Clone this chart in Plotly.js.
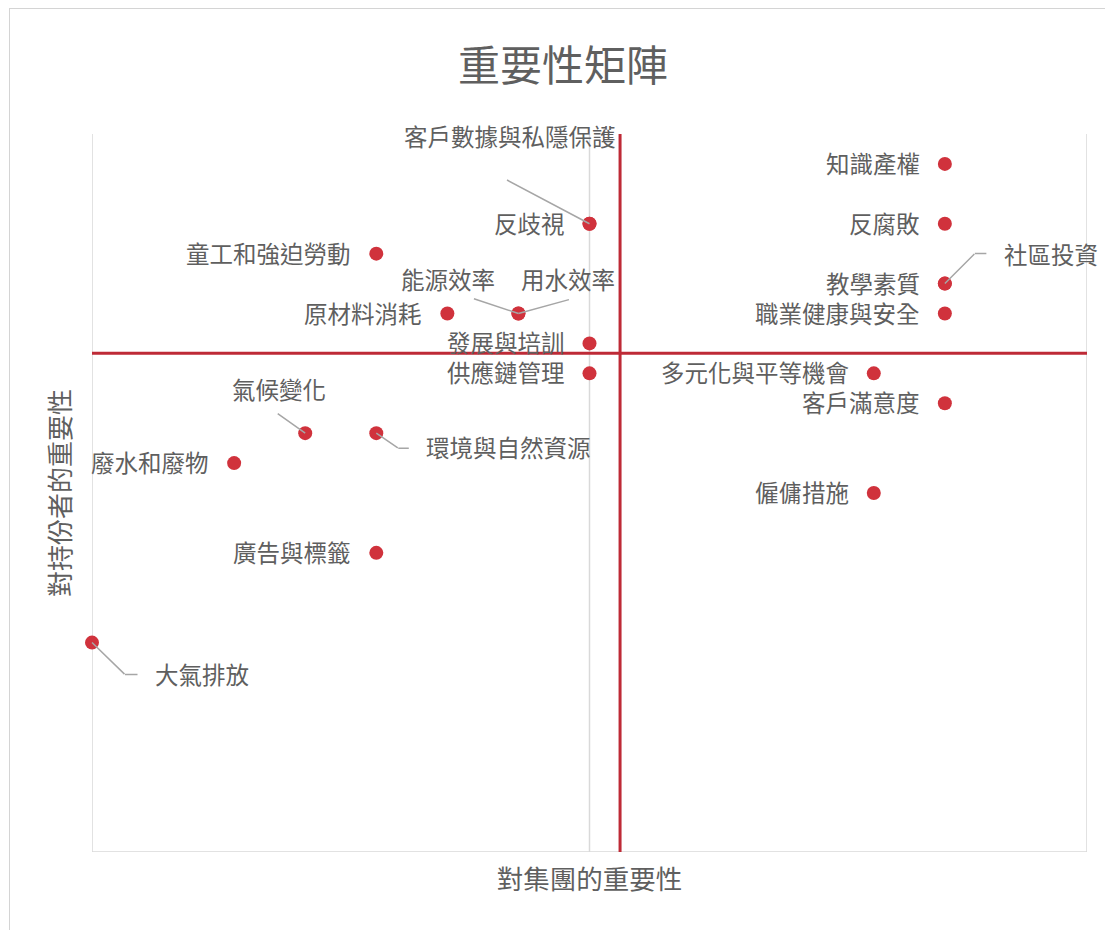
<!DOCTYPE html>
<html>
<head>
<meta charset="utf-8">
<script src="https://cdn.plot.ly/plotly-3.0.1.min.js"></script>
<style>
  html, body { margin: 0; padding: 0; background: #ffffff; }
  #wrap { position: relative; width: 1105px; height: 930px; }
  #chart { position: absolute; left: 0; top: 0; width: 1105px; height: 930px; }
  #frame { position: absolute; left: 9px; top: 8px; width: 1200px; height: 1000px;
           border-top: 1px solid #d4d4d4; border-left: 1px solid #d4d4d4; pointer-events: none; }
</style>
</head>
<body>
<div id="wrap">
  <div id="chart"></div>
  <div id="frame"></div>
</div>
<script>
// ---- data ----
const topics = ['知識產權','客戶數據與私隱保護','反歧視','反腐敗','童工和強迫勞動','社區投資','教學素質',
  '能源效率','用水效率','原材料消耗','職業健康與安全','發展與培訓','供應鏈管理','多元化與平等機會',
  '客戶滿意度','氣候變化','環境與自然資源','廢水和廢物','僱傭措施','廣告與標籤','大氣排放'];
const groupImportance = [12, 7, 7, 12, 4, 12, 12, 6, 6, 5, 12, 7, 7, 11, 12, 3, 4, 2, 11, 4, 0];
const stakeholderImportance = [23, 21, 21, 21, 20, 19, 19, 18, 18, 18, 18, 17, 16, 16, 15, 14, 14, 13, 12, 10, 7];
const xGridValues = [0, 7, 14];
const xMid = 7.43;
const yMid = 16.67;
const chartTitle = '重要性矩陣';
const xTitle = '對集團的重要性';
const yTitle = '對持份者的重要性';

// ---- label placement (pixel offsets, styling only) ----
const DEFAULT_LABEL = {dx: -23, dy: -1, anchor: 'right'};
const labelPlacement = {
  '客戶數據與私隱保護': {dx: -80, dy: -88, anchor: 'center', leader: [[-83, -44]]},
  '能源效率': {dx: -70, dy: -35, anchor: 'center', leader: [[-45, -15]]},
  '用水效率': {dx: 50, dy: -35, anchor: 'center', leader: [[51, -14]]},
  '社區投資': {dx: 57, dy: -30, anchor: 'left', leader: [[30, -30], [42, -30]]},
  '氣候變化': {dx: -26, dy: -44, anchor: 'center', leader: [[-28, -20]]},
  '環境與自然資源': {dx: 48, dy: 14, anchor: 'left', leader: [[22, 15], [33, 15]]},
  '大氣排放': {dx: 61, dy: 31, anchor: 'left', leader: [[33, 32], [46, 32]]}
};

const FONT = '"Noto Sans CJK TC", "Noto Sans CJK SC", sans-serif';
const textColor = '#5f5f5f';
const leaderColor = '#a6a6a6';

const annotations = [];
topics.forEach((name, i) => {
  const p = labelPlacement[name] || DEFAULT_LABEL;
  const x = groupImportance[i], y = stakeholderImportance[i];
  annotations.push({
    x: x, y: y, xref: 'x', yref: 'y', text: name, showarrow: false,
    xanchor: p.anchor, yanchor: 'middle', xshift: p.dx, yshift: -p.dy,
    font: {family: FONT, size: 23.5, color: textColor}
  });
  if (p.leader) {
    let prev = [0, 0];
    p.leader.forEach(pt => {
      annotations.push({
        x: x, y: y, xref: 'x', yref: 'y', text: '', showarrow: true,
        arrowhead: 0, arrowwidth: 1.5, arrowcolor: leaderColor, standoff: 0, startstandoff: 0,
        xshift: prev[0], yshift: -prev[1],
        ax: pt[0] - prev[0], ay: pt[1] - prev[1],
        font: {size: 1}, borderpad: 0
      });
      prev = pt;
    });
  }
});

const shapes = [];
xGridValues.forEach(v => shapes.push({
  type: 'line', xref: 'x', yref: 'paper', x0: v, x1: v, y0: 0, y1: 1,
  line: {color: '#d9d9d9', width: 1.5}, layer: 'below'
}));
shapes.push({type: 'line', xref: 'paper', yref: 'y', x0: 0, x1: 1, y0: 0, y1: 0,
  line: {color: '#d9d9d9', width: 1.5}, layer: 'below'});
shapes.push({type: 'line', xref: 'x', yref: 'paper', x0: xMid, x1: xMid, y0: 0, y1: 1,
  line: {color: '#be2a36', width: 3}, layer: 'below'});
shapes.push({type: 'line', xref: 'paper', yref: 'y', x0: 0, x1: 1, y0: yMid, y1: yMid,
  line: {color: '#be2a36', width: 3}, layer: 'below'});

const trace = {
  x: groupImportance, y: stakeholderImportance, text: topics,
  type: 'scatter', mode: 'markers',
  marker: {size: 14, color: '#d0323c'},
  cliponaxis: false, hoverinfo: 'text'
};

const layout = {
  width: 1105, height: 930,
  margin: {l: 92, r: 18, t: 134, b: 78},
  paper_bgcolor: '#ffffff', plot_bgcolor: '#ffffff',
  showlegend: false,
  title: {text: chartTitle, x: 0.5095, xanchor: 'center', y: 1 - 66/930, yanchor: 'middle', yref: 'container',
          font: {family: FONT, size: 42, color: textColor}},
  xaxis: {range: [0, 14], showgrid: false, zeroline: false, showticklabels: false, ticks: '', showline: false,
          title: {text: xTitle, standoff: 18, font: {family: FONT, size: 26.5, color: textColor}}},
  yaxis: {range: [0, 24], showgrid: false, zeroline: false, showticklabels: false, ticks: '', showline: false,
          title: {text: yTitle, standoff: 12, font: {family: FONT, size: 26, color: textColor}}},
  shapes: shapes,
  annotations: annotations
};

Plotly.newPlot('chart', [trace], layout, {staticPlot: true});
</script>
</body>
</html>
